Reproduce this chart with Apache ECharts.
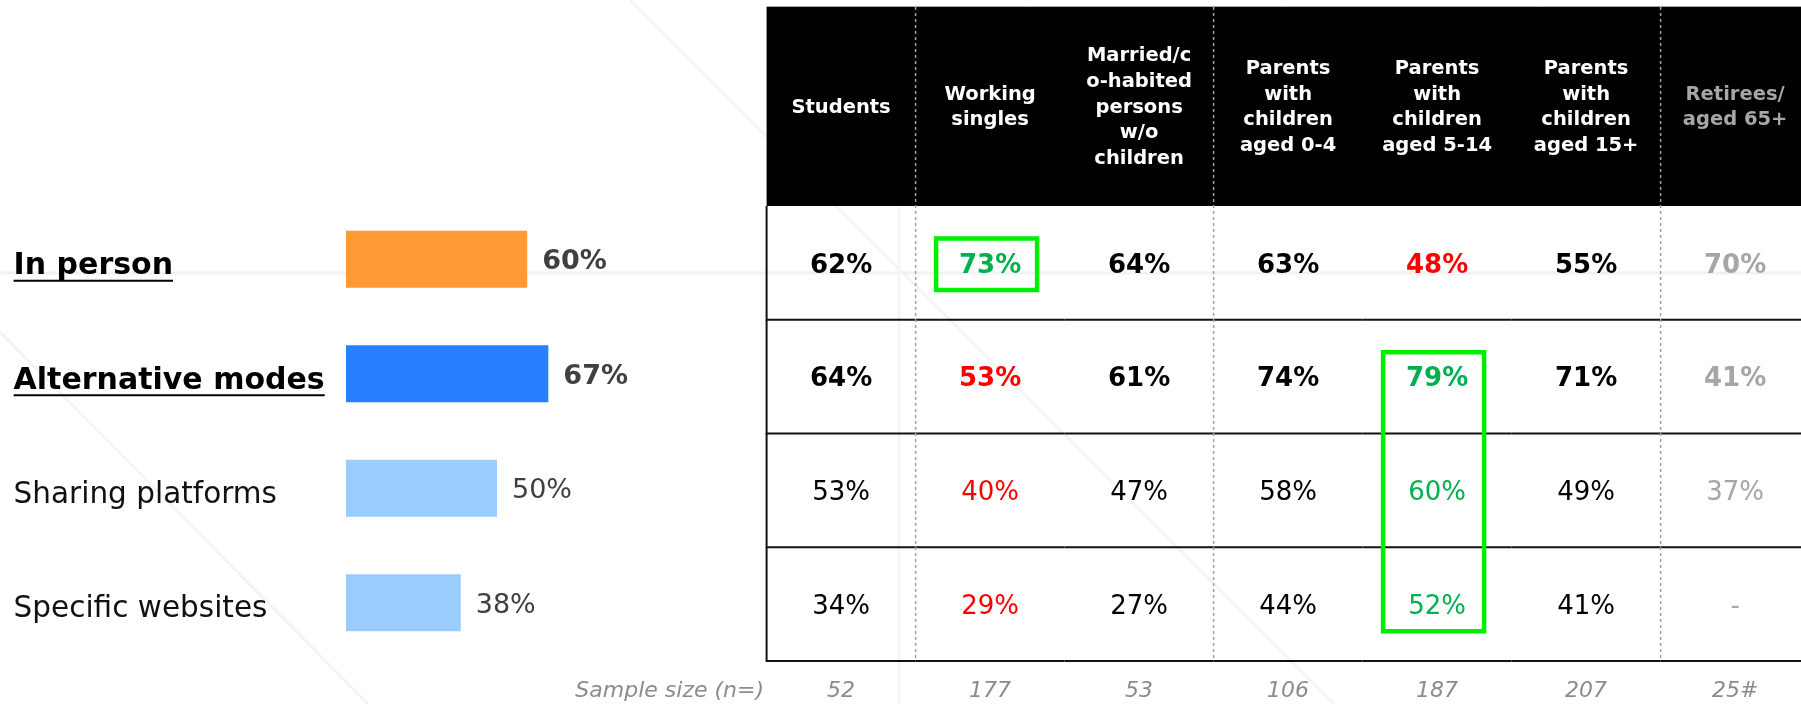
<!DOCTYPE html>
<html>
<head>
<meta charset="utf-8">
<script src="https://cdn.jsdelivr.net/npm/echarts@6/dist/echarts.min.js"></script>
<style>
html,body{margin:0;padding:0;background:#fff;}
#c{width:1801px;height:704px;}
</style>
</head>
<body>
<div id="c"></div>
<script>
// ---------- DATA ----------
const categories = ['In person', 'Alternative modes', 'Sharing platforms', 'Specific websites'];
const overallValues = [60, 67, 50, 38];
const headlineRows = [true, true, false, false];
const barColors = ['#ff9933', '#2a7fff', '#99ccff', '#99ccff'];

const segments = [
  'Students',
  'Working\nsingles',
  'Married/c\no-habited\npersons\nw/o\nchildren',
  'Parents\nwith\nchildren\naged 0-4',
  'Parents\nwith\nchildren\naged 5-14',
  'Parents\nwith\nchildren\naged 15+',
  'Retirees/\naged 65+'
];
const lowSampleSegments = [false, false, false, false, false, false, true];
const sampleSizes = ['52', '177', '53', '106', '187', '207', '25#'];

const rowInPerson    = [62, 73, 64, 63, 48, 55, 70];
const rowAlternative = [64, 53, 61, 74, 79, 71, 41];
const rowSharing     = [53, 40, 47, 58, 60, 49, 37];
const rowWebsites    = [34, 29, 27, 44, 52, 41, null];

// 'h' = significantly higher, 'l' = significantly lower, '' = neutral
const flagsInPerson    = ['', 'h', '', '', 'l', '', ''];
const flagsAlternative = ['', 'l', '', '', 'h', '', ''];
const flagsSharing     = ['', 'l', '', '', 'h', '', ''];
const flagsWebsites    = ['', 'l', '', '', 'h', '', ''];

const groupBreaks = [1, 3, 6];               // dotted separator before these columns
const highlightBoxes = [[1, 0, 0], [4, 1, 3]]; // [column, fromRow, toRow]

// ---------- STYLE / LAYOUT ----------
const FONT = 'DejaVu Sans';
const BAR_LEFT = 346, BAR_W = 302;
const TABLE_LEFT = 766.6, COL_W = 149;
const HEADER_TOP = 7, ROWS_TOP = 206, ROWS_H = 455;
const LABEL_X = 13.6;

const tableRows = [rowInPerson, rowAlternative, rowSharing, rowWebsites];
const tableFlags = [flagsInPerson, flagsAlternative, flagsSharing, flagsWebsites];

const cells = [];
tableRows.forEach((row, r) => {
  row.forEach((v, c) => {
    let color = '#000';
    if (tableFlags[r][c] === 'h') color = '#00b050';
    if (tableFlags[r][c] === 'l') color = '#ff0000';
    if (lowSampleSegments[c]) color = '#a6a6a6';
    cells.push({ c, r, text: v == null ? '-' : v + '%', color, bold: headlineRows[r] });
  });
});

const measureCtx = document.createElement('canvas').getContext('2d');
function textWidth(str, font) { measureCtx.font = font; return measureCtx.measureText(str).width; }

const chart = echarts.init(document.getElementById('c'), null, { renderer: 'canvas' });

const option = {
  backgroundColor: '#ffffff',
  animation: false,
  grid: [
    { left: BAR_LEFT, width: BAR_W, top: 202, height: 458, outerBoundsMode: 'none' },
    { left: TABLE_LEFT, width: COL_W * 7, top: ROWS_TOP, height: ROWS_H, outerBoundsMode: 'none' }
  ],
  xAxis: [
    { gridIndex: 0, type: 'value', min: 0, max: 100, show: false },
    {
      gridIndex: 1, type: 'category', data: segments, position: 'top',
      axisLine: { show: false }, axisTick: { show: false }, splitLine: { show: false },
      axisLabel: {
        interval: 0, margin: 98.5, verticalAlign: 'middle',
        fontFamily: FONT, fontWeight: 'bold', fontSize: 19.5, lineHeight: 25.8,
        color: (v, i) => lowSampleSegments[i] ? '#a6a6a6' : '#ffffff'
      }
    },
    {
      gridIndex: 1, type: 'category', data: sampleSizes, position: 'bottom',
      axisLine: { show: false }, axisTick: { show: false }, splitLine: { show: false },
      axisLabel: {
        interval: 0, margin: 30, verticalAlign: 'middle',
        fontFamily: FONT, fontStyle: 'italic', fontSize: 22, color: '#8c8c8c'
      }
    }
  ],
  yAxis: [
    {
      gridIndex: 0, type: 'category', data: categories, inverse: true,
      axisLine: { show: false }, axisTick: { show: false }, splitLine: { show: false },
      axisLabel: {
        align: 'left', margin: BAR_LEFT - LABEL_X,
        formatter: (v, i) => headlineRows[i] ? '{h|' + v + '}' : '{n|' + v + '}',
        rich: {
          h: { fontFamily: FONT, fontWeight: 'bold', fontSize: 30, color: '#000', padding: [14, 0, 0, 0] },
          n: { fontFamily: FONT, fontSize: 29.5, color: '#111', padding: [14, 0, 0, 0] }
        }
      }
    },
    { gridIndex: 1, type: 'category', data: categories, inverse: true, show: false }
  ],
  graphic: [
    // faint decorative background strokes
    { type: 'line', z: -20, silent: true, shape: { x1: 0, y1: 273, x2: 1801, y2: 273 }, style: { stroke: '#f2f2f2', lineWidth: 3 } },
    { type: 'line', z: -20, silent: true, shape: { x1: 630, y1: 0, x2: 1334, y2: 704 }, style: { stroke: '#f3f3f3', lineWidth: 2.5 } },
    { type: 'line', z: -20, silent: true, shape: { x1: 0, y1: 332, x2: 368, y2: 704 }, style: { stroke: '#f3f3f3', lineWidth: 2.5 } },
    { type: 'line', z: -20, silent: true, shape: { x1: 899, y1: 206, x2: 899, y2: 704 }, style: { stroke: '#f5f5f5', lineWidth: 3 } },
    // header background
    { type: 'rect', z: -10, silent: true, shape: { x: TABLE_LEFT, y: HEADER_TOP, width: 1801 - TABLE_LEFT, height: ROWS_TOP - HEADER_TOP }, style: { fill: '#000' } },
    { type: 'line', z: -9, silent: true, shape: { x1: TABLE_LEFT, y1: HEADER_TOP - 0.5, x2: 1801, y2: HEADER_TOP - 0.5 }, style: { stroke: '#aaa', lineWidth: 1 } },
    // sample size caption
    { type: 'text', silent: true, x: 764, y: 691, style: { text: 'Sample size (n=)', align: 'right', verticalAlign: 'middle', textAlign: 'right', textVerticalAlign: 'middle', font: 'italic 22px "' + FONT + '"', fill: '#8c8c8c' } }
  ],
  series: [
    {
      type: 'bar', xAxisIndex: 0, yAxisIndex: 0, barWidth: 57,
      data: overallValues.map((v, i) => ({
        value: v,
        itemStyle: { color: barColors[i] },
        label: { fontWeight: headlineRows[i] ? 'bold' : 'normal' }
      })),
      label: {
        show: true, position: 'right', distance: 15, formatter: '{c}%', offset: [0, 3],
        fontFamily: FONT, fontSize: 27, color: '#404040'
      }
    },
    {
      // underline for headline categories
      type: 'custom', xAxisIndex: 0, yAxisIndex: 0, silent: true,
      data: headlineRows.map((h, i) => h ? [0, i] : null).filter(Boolean),
      renderItem: (params, api) => {
        const idx = api.value(1);
        const y = api.coord([0, idx])[1] + 21.5;
        const w = textWidth(categories[idx], 'bold 30px "' + FONT + '"');
        return { type: 'line', shape: { x1: LABEL_X, y1: y, x2: LABEL_X + w, y2: y }, style: { stroke: '#000', lineWidth: 2.2 } };
      }
    },
    {
      // table cells
      type: 'custom', xAxisIndex: 1, yAxisIndex: 1, silent: true,
      data: cells.map(d => [d.c, d.r]),
      renderItem: (params, api) => {
        const d = cells[params.dataIndex];
        const p = api.coord([d.c, d.r]);
        const s = api.size([1, 1]);
        const children = [
          { type: 'text', x: p[0], y: p[1] + 3, style: {
              text: d.text, align: 'center', verticalAlign: 'middle', textAlign: 'center', textVerticalAlign: 'middle',
              font: (d.bold ? 'bold ' : '') + '26px "' + FONT + '"', fill: d.color } },
          { type: 'line', shape: { x1: p[0] - s[0] / 2, y1: p[1] + s[1] / 2, x2: p[0] + s[0] / 2, y2: p[1] + s[1] / 2 }, style: { stroke: '#111', lineWidth: 2 } }
        ];
        if (d.c === 0) {
          children.push({ type: 'line', shape: { x1: p[0] - s[0] / 2, y1: p[1] - s[1] / 2, x2: p[0] - s[0] / 2, y2: p[1] + s[1] / 2 + 1 }, style: { stroke: '#111', lineWidth: 2 } });
        }
        return { type: 'group', children };
      }
    },
    {
      // dotted group separators
      type: 'custom', xAxisIndex: 1, yAxisIndex: 1, silent: true,
      data: groupBreaks.map(b => [b, 0]),
      renderItem: (params, api) => {
        const b = api.value(0);
        const x = api.coord([b, 0])[0] - api.size([1, 0])[0] / 2;
        return { type: 'line', shape: { x1: x, y1: HEADER_TOP, x2: x, y2: ROWS_TOP + ROWS_H }, style: { stroke: '#a0a0a0', lineWidth: 1.5, lineDash: [3, 3] } };
      }
    },
    {
      // green highlight boxes
      type: 'custom', xAxisIndex: 1, yAxisIndex: 1, silent: true, z: 5,
      data: highlightBoxes,
      renderItem: (params, api) => {
        const box = highlightBoxes[params.dataIndex];
        const a = api.coord([box[0], box[1]]);
        const b = api.coord([box[0], box[2]]);
        return { type: 'rect', shape: { x: a[0] - 54, y: a[1] - 24.5, width: 101, height: b[1] - a[1] + 51.5 }, style: { fill: 'none', stroke: '#00ee00', lineWidth: 4.5 } };
      }
    }
  ]
};
chart.setOption(option);
</script>
</body>
</html>
